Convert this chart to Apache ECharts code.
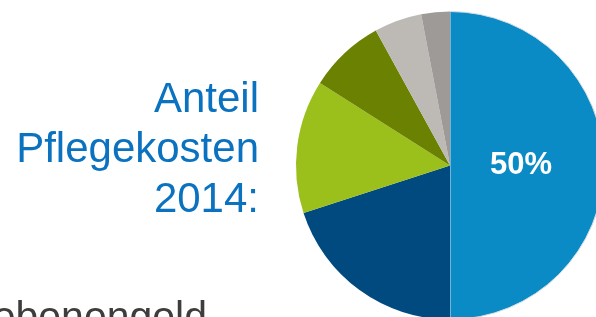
<!DOCTYPE html>
<html>
<head>
<meta charset="utf-8">
<script src="https://cdn.jsdelivr.net/npm/echarts@6/dist/echarts.min.js"></script>
<style>
  html, body { margin: 0; padding: 0; background: #fff; }
  #chart { width: 596px; height: 317px; }
</style>
</head>
<body>
<div id="chart"></div>
<script>
// shares of care costs 2014, clockwise from 12 o'clock
const shares = [50, 20, 14, 8, 5, 3]
const sliceColors = ['#0a8bc6', '#004a80', '#9bbf1b', '#6b8101', '#bdbab5', '#9e9a98']
const titleLines = ['Anteil', 'Pflegekosten', '2014:']
const legendText = 'Hinterbliebenengeld'

const chart = echarts.init(document.getElementById('chart'))

chart.setOption({
  animation: false,
  graphic: [
    {
      type: 'text',
      x: 259,
      y: 75,
      style: {
        text: titleLines.join('\n'),
        fill: '#0b72c0',
        font: '42px "Liberation Sans"',
        lineHeight: 50,
        align: 'right',
        verticalAlign: 'top'
      }
    },
    {
      type: 'text',
      right: 389,
      top: 298,
      style: {
        text: legendText,
        fill: '#3d3d3d',
        font: '41px "Liberation Sans"',
        textAlign: 'right'
      }
    }
  ],
  series: [{
    type: 'pie',
    center: [450, 165.5],
    radius: 154,
    startAngle: 90,
    clockwise: true,
    silent: true,
    label: { show: false },
    labelLine: { show: false },
    data: shares.map((v, i) => ({
      value: v,
      itemStyle: i === 0
        ? { color: sliceColors[i], borderColor: '#d8dde0', borderWidth: 1 }
        : { color: sliceColors[i] },
      label: i === 0
        ? {
            show: true,
            position: 'inside',
            offset: [-9, 0],
            formatter: '{c}%',
            color: '#fff',
            fontFamily: 'Liberation Sans',
            fontWeight: 'bold',
            fontSize: 31
          }
        : { show: false }
    }))
  }]
})
</script>
</body>
</html>
